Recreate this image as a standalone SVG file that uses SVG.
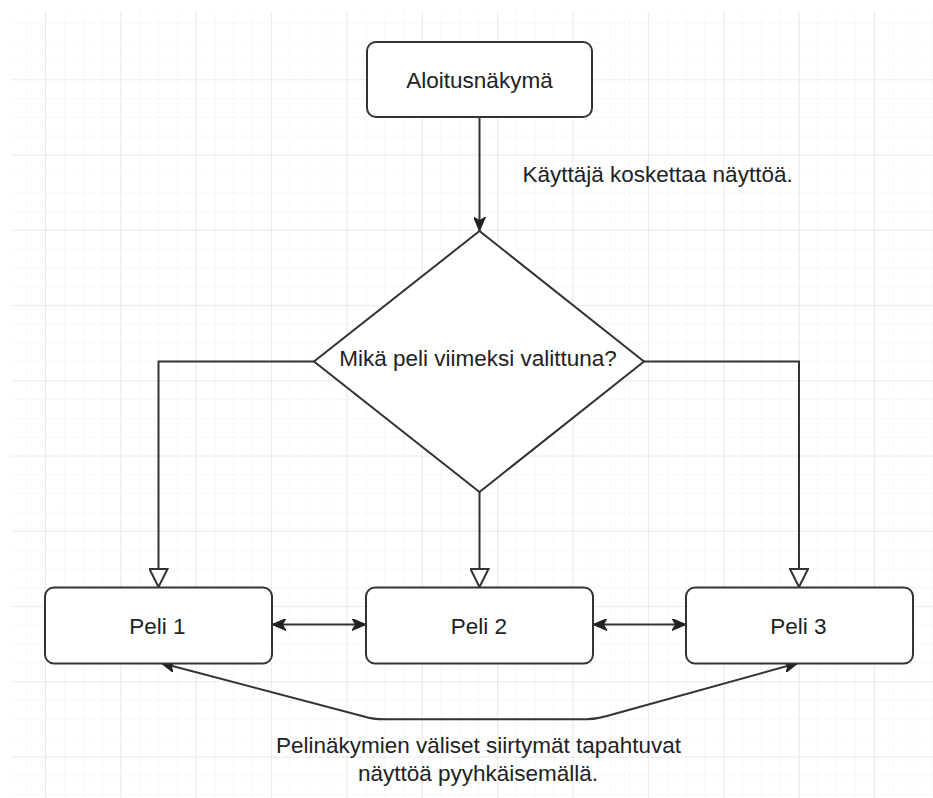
<svg xmlns="http://www.w3.org/2000/svg" width="933" height="798" viewBox="0 0 933 798">
  <style>
    .node { fill: #ffffff; stroke: #333333; stroke-width: 2; }
    .edge { fill: none; stroke: #333333; stroke-width: 2; }
    .lbl { font-family: "Liberation Sans", Arial, sans-serif; font-size: 22.5px; fill: #222222; }
    .mid { text-anchor: middle; }
  </style>
  <defs>
    <pattern id="minor" patternUnits="userSpaceOnUse" x="45" y="79.3" width="18.84" height="18.81">
      <path d="M0,0 V18.81 M0,0 H18.84" fill="none" stroke="#f1f1f1" stroke-width="1"/>
    </pattern>
    <pattern id="major" patternUnits="userSpaceOnUse" x="45" y="79.3" width="75.36" height="75.25">
      <path d="M0,0 V75.25 M0,0 H75.36" fill="none" stroke="#e0e0e0" stroke-width="1.2"/>
    </pattern>
    <marker id="arrFill" markerUnits="userSpaceOnUse" viewBox="0 0 14 12" refX="14" refY="6" markerWidth="14" markerHeight="12" orient="auto-start-reverse">
      <path d="M0,0 L14,6 L0,12 L3.5,6 Z" fill="#222222" stroke="#222222" stroke-width="1"/>
    </marker>
    <marker id="arrOpen" markerUnits="userSpaceOnUse" viewBox="-1 -1 20 20" refX="18" refY="9" markerWidth="20" markerHeight="20" orient="auto">
      <path d="M0,0 L18,9 L0,18 Z" fill="#ffffff" stroke="#333333" stroke-width="2" stroke-linejoin="miter"/>
    </marker>
  </defs>

  <rect x="0" y="0" width="933" height="798" fill="#ffffff"/>
  <rect x="11" y="11" width="922" height="787" fill="url(#minor)"/>
  <rect x="11" y="11" width="922" height="787" fill="url(#major)"/>

  <g id="connectors">
    <path class="edge" d="M479.5,117 L479.5,231" marker-end="url(#arrFill)"/>
    <path class="edge" d="M314,361.5 L158.5,361.5 L158.5,587" marker-end="url(#arrOpen)"/>
    <path class="edge" d="M479.5,492 L479.5,587" marker-end="url(#arrOpen)"/>
    <path class="edge" d="M644,361.5 L799,361.5 L799,587" marker-end="url(#arrOpen)"/>
    <path class="edge" d="M272,624.5 L366,624.5" marker-start="url(#arrFill)" marker-end="url(#arrFill)"/>
    <path class="edge" d="M593,624.5 L686,624.5" marker-start="url(#arrFill)" marker-end="url(#arrFill)"/>
    <path class="edge" d="M161,663 L364,716.5 Q373,719.3 384,719.3 L586,719.3 Q596,719.3 606,716.3 L798,663" marker-start="url(#arrFill)" marker-end="url(#arrFill)"/>
    <text class="lbl" x="522.5" y="182">Käyttäjä koskettaa näyttöä.</text>
    <text class="lbl mid" x="478.5" y="753">Pelinäkymien väliset siirtymät tapahtuvat</text>
    <text class="lbl mid" x="478" y="781">näyttöä pyyhkäisemällä.</text>
  </g>

  <g id="aloitus">
    <rect class="node" x="367" y="42" width="225" height="75" rx="9" ry="9"/>
    <text class="lbl mid" x="479.5" y="88">Aloitusnäkymä</text>
  </g>

  <g id="decision">
    <polygon class="node" points="479.5,231 644,361.5 479.5,492 314,361.5"/>
    <text class="lbl mid" x="478" y="366">Mikä peli viimeksi valittuna?</text>
  </g>

  <g id="peli1">
    <rect class="node" x="45" y="587.5" width="227" height="76" rx="9" ry="9"/>
    <text class="lbl mid" x="157.5" y="634">Peli 1</text>
  </g>

  <g id="peli2">
    <rect class="node" x="366" y="587.5" width="227" height="76" rx="9" ry="9"/>
    <text class="lbl mid" x="479" y="634">Peli 2</text>
  </g>

  <g id="peli3">
    <rect class="node" x="686" y="587.5" width="227" height="76" rx="9" ry="9"/>
    <text class="lbl mid" x="798.5" y="634">Peli 3</text>
  </g>
</svg>
